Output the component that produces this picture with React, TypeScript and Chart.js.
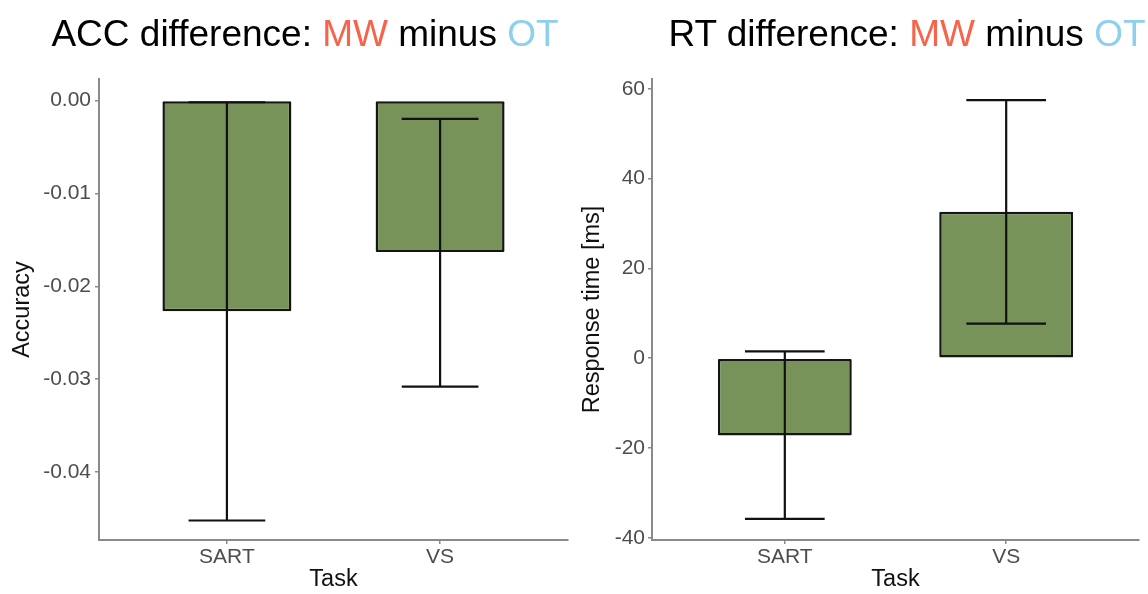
import React, { useEffect, useRef } from "react";
import { Chart, registerables } from "chart.js";

Chart.register(...registerables);

// ---- data ----
const categories = ["SART", "VS"];
const categoryPositions = [1, 2];

const accMean = [-0.0227, -0.0163];
const accLower = [-0.0452, -0.0308];
const accUpper = [-0.0002, -0.002];
const accTicks = [-0.04, -0.03, -0.02, -0.01, 0];

const rtMean = [-17.2, 32.6];
const rtLower = [-35.8, 7.7];
const rtUpper = [1.5, 57.5];
const rtTicks = [-40, -20, 0, 20, 40, 60];

// ---- styles ----
const BAR_FILL = "#77935a";
const BAR_EDGE = "#151515";
const AXIS_GREY = "#8a8a8a";
const TICK_GREY = "#4d4d4d";
const FONT = "'Liberation Sans', Arial, sans-serif";
const W = 574;
const H = 594;

function makeErrorPlugin(lower: number[], upper: number[], capWidth: number) {
  return {
    id: "errorBars",
    afterDatasetsDraw(chart: any) {
      const { ctx } = chart;
      const x = chart.scales.x;
      const y = chart.scales.y;
      ctx.save();
      ctx.strokeStyle = "#111111";
      ctx.lineWidth = 2.2;
      categoryPositions.forEach((p, i) => {
        const cx = x.getPixelForValue(p);
        const l = x.getPixelForValue(p - capWidth / 2);
        const r = x.getPixelForValue(p + capWidth / 2);
        const yl = y.getPixelForValue(lower[i]);
        const yu = y.getPixelForValue(upper[i]);
        ctx.beginPath();
        ctx.moveTo(cx, yl);
        ctx.lineTo(cx, yu);
        ctx.moveTo(l, yl);
        ctx.lineTo(r, yl);
        ctx.moveTo(l, yu);
        ctx.lineTo(r, yu);
        ctx.stroke();
      });
      ctx.restore();
    },
  };
}

interface PanelProps {
  mean: number[];
  lower: number[];
  upper: number[];
  ticks: number[];
  min: number;
  max: number;
  yTitle: string;
  yWidth: number;
  padRight: number;
  titlePadTop: number;
  tickPad: number;
  fmt: (v: number) => string;
  left: number;
}

function Panel(props: PanelProps) {
  const ref = useRef<HTMLCanvasElement | null>(null);
  useEffect(() => {
    if (!ref.current) return;
    const p = props;
    const chart = new Chart(ref.current, {
      type: "bar",
      data: {
        datasets: [
          {
            data: categoryPositions.map((x, i) => ({ x, y: p.mean[i] })),
            backgroundColor: BAR_FILL,
            borderColor: BAR_EDGE,
            borderWidth: 2.5,
            borderSkipped: false,
            borderRadius: 1,
            categoryPercentage: 1,
            barPercentage: 0.605,
          } as any,
        ],
      },
      options: {
        animation: false,
        responsive: false,
        maintainAspectRatio: false,
        devicePixelRatio: 1,
        layout: { padding: { top: 79, right: p.padRight, bottom: 0, left: 0 } },
        plugins: {
          legend: { display: false },
          tooltip: { enabled: false },
          title: { display: false },
        },
        scales: {
          x: {
            type: "linear",
            min: 0.4,
            max: 2.6,
            bounds: "data",
            offset: false,
            grid: {
              display: true,
              offset: false,
              drawOnChartArea: false,
              drawTicks: true,
              tickLength: 4,
              color: AXIS_GREY,
              lineWidth: 1.5,
            },
            border: { display: true, color: AXIS_GREY, width: 2 },
            ticks: {
              color: TICK_GREY,
              font: { family: FONT, size: 21 },
              padding: 1,
              maxRotation: 0,
              autoSkip: false,
              callback: (v: any) => {
                const idx = categoryPositions.indexOf(Number(v));
                return idx >= 0 ? categories[idx] : "";
              },
            },
            afterBuildTicks: (scale: any) => {
              scale.ticks = categoryPositions.map((v) => ({ value: v }));
            },
            afterFit: (scale: any) => {
              scale.height = 54;
            },
            title: {
              display: true,
              text: "Task",
              color: "#111111",
              font: { family: FONT, size: 23.5 },
              padding: { top: 0, bottom: 0 },
            },
          } as any,
          y: {
            type: "linear",
            min: p.min,
            max: p.max,
            bounds: "data",
            grid: {
              display: true,
              drawOnChartArea: false,
              drawTicks: true,
              tickLength: 4,
              color: AXIS_GREY,
              lineWidth: 1.5,
            },
            border: { display: true, color: AXIS_GREY, width: 2 },
            ticks: {
              color: TICK_GREY,
              font: { family: FONT, size: 21 },
              padding: p.tickPad,
              autoSkip: false,
              callback: (v: any) => p.fmt(Number(v)),
            },
            afterBuildTicks: (scale: any) => {
              scale.ticks = p.ticks.map((v) => ({ value: v }));
            },
            afterFit: (scale: any) => {
              scale.width = p.yWidth;
            },
            title: {
              display: true,
              text: p.yTitle,
              color: "#111111",
              font: { family: FONT, size: 23.5 },
              padding: { top: p.titlePadTop, bottom: 0 },
            },
          } as any,
        },
      },
      plugins: [makeErrorPlugin(p.lower, p.upper, 0.36)],
    });
    return () => chart.destroy();
  }, []);
  return (
    <canvas
      ref={ref}
      width={W}
      height={H}
      style={{ position: "absolute", left: props.left, top: 0, width: W, height: H }}
    />
  );
}

function Title({ prefix, center }: { prefix: string; center: number }) {
  return (
    <div
      style={{
        position: "absolute",
        left: center - 300,
        width: 600,
        top: 15,
        textAlign: "center",
        whiteSpace: "nowrap",
        fontFamily: FONT,
        fontSize: 37,
        lineHeight: "37px",
        color: "#000000",
      }}
    >
      {prefix}
      <span style={{ color: "#f7634b" }}>MW</span> minus{" "}
      <span style={{ color: "#8dcfec" }}>OT</span>
    </div>
  );
}

export default function App() {
  return (
    <div
      style={{
        position: "absolute",
        left: 0,
        top: 0,
        width: 1148,
        height: 594,
        overflow: "hidden",
        background: "#ffffff",
      }}
    >
      <Panel
        mean={accMean}
        lower={accLower}
        upper={accUpper}
        ticks={accTicks}
        min={-0.0473}
        max={0.0023}
        yTitle="Accuracy"
        yWidth={99}
        padRight={6}
        titlePadTop={8}
        tickPad={4}
        fmt={(v) => (Math.abs(v) < 1e-9 ? "0.00" : v.toFixed(2))}
        left={0}
      />
      <Panel
        mean={rtMean}
        lower={rtLower}
        upper={rtUpper}
        ticks={rtTicks}
        min={-40.5}
        max={62.2}
        yTitle="Response time [ms]"
        yWidth={78}
        padRight={9}
        titlePadTop={4}
        tickPad={3}
        fmt={(v) => String(v)}
        left={574}
      />
      <Title prefix="ACC difference: " center={305} />
      <Title prefix="RT difference: " center={907} />
    </div>
  );
}
